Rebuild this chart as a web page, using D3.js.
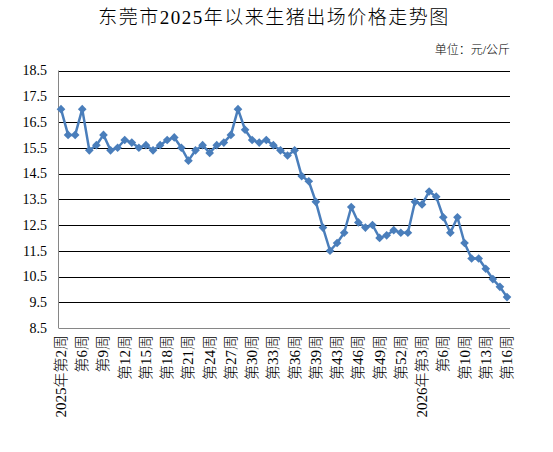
<!DOCTYPE html>
<html>
<head>
<meta charset="utf-8">
<script src="https://cdn.jsdelivr.net/npm/d3@7"></script>
<style>
  body { margin: 0; background: #fff; }
  svg { display: block; }
</style>
</head>
<body>
<div id="chart"></div>
<script>
// weekly price (元/公斤), one point per report
const prices = [
  17.0, 16.0, 16.0, 17.0, 15.4, 15.6, 16.0, 15.4, 15.5, 15.8,
  15.7, 15.5, 15.6, 15.4, 15.6, 15.8, 15.9, 15.5, 15.0, 15.4,
  15.6, 15.3, 15.6, 15.7, 16.0, 17.0, 16.2, 15.8, 15.7, 15.8,
  15.6, 15.4, 15.2, 15.4, 14.4, 14.2, 13.4, 12.4, 11.5, 11.8,
  12.2, 13.2, 12.6, 12.4, 12.5, 12.0, 12.1, 12.3, 12.2, 12.2,
  13.4, 13.3, 13.8, 13.6, 12.8, 12.2, 12.8, 11.8, 11.2, 11.2,
  10.8, 10.4, 10.1, 9.7
];
// one label every third point
const tickLabels = [
  "2025年第2周", "第6周", "第9周", "第12周", "第15周", "第18周", "第21周",
  "第24周", "第27周", "第30周", "第33周", "第36周", "第39周", "第43周",
  "第46周", "第49周", "第52周", "2026年第3周", "第6周", "第10周", "第13周", "第16周"
];
const yTicks = [8.5, 9.5, 10.5, 11.5, 12.5, 13.5, 14.5, 15.5, 16.5, 17.5, 18.5];

const width = 553;
const height = 452;
const margin = { top: 70.5, right: 43, bottom: 124, left: 58.5 };

const serif = "'Liberation Serif', 'Noto Sans CJK SC', serif";

const svg = d3.select("#chart")
  .append("svg")
  .attr("width", width)
  .attr("height", height);

const x = d3.scalePoint()
  .domain(d3.range(prices.length))
  .range([61, 507]);

const y = d3.scaleLinear()
  .domain([8.5, 18.5])
  .range([height - margin.bottom, margin.top]);

// gridlines
svg.append("g")
  .selectAll("line")
  .data(yTicks.slice(1))
  .enter()
  .append("line")
  .attr("x1", margin.left)
  .attr("x2", width - margin.right)
  .attr("y1", (d) => Math.round(y(d)) + 0.5)
  .attr("y2", (d) => Math.round(y(d)) + 0.5)
  .attr("stroke", "#000")
  .attr("stroke-width", 1);

// axes
svg.append("line")
  .attr("x1", margin.left).attr("x2", margin.left)
  .attr("y1", margin.top).attr("y2", height - margin.bottom)
  .attr("stroke", "#868686");
svg.append("line")
  .attr("x1", margin.left).attr("x2", width - margin.right)
  .attr("y1", Math.round(y(8.5)) + 0.5).attr("y2", Math.round(y(8.5)) + 0.5)
  .attr("stroke", "#868686");

// y labels
svg.append("g")
  .selectAll("text")
  .data(yTicks)
  .enter()
  .append("text")
  .attr("x", 47)
  .attr("y", (d) => y(d))
  .attr("dy", "0.35em")
  .attr("text-anchor", "end")
  .style("font-family", serif)
  .style("font-size", "14px")
  .attr("fill", "#000")
  .text((d) => d.toFixed(1));

// x labels, rotated
svg.append("g")
  .selectAll("text")
  .data(tickLabels)
  .enter()
  .append("text")
  .attr("transform", (d, i) => `translate(${x(i * 3) + 5},${height - margin.bottom + 7}) rotate(-90)`)
  .attr("text-anchor", "end")
  .style("font-family", serif)
  .style("font-size", "15px")
  .style("font-weight", 300)
  .attr("fill", "#000")
  .text((d) => d);

// line
const line = d3.line()
  .x((d, i) => x(i))
  .y((d) => y(d));

svg.append("path")
  .datum(prices)
  .attr("d", line)
  .attr("fill", "none")
  .attr("stroke", "#4a7ebb")
  .attr("stroke-width", 2.5)
  .attr("stroke-linejoin", "round");

svg.append("g")
  .selectAll("path")
  .data(prices)
  .enter()
  .append("path")
  .attr("d", d3.symbol(d3.symbolDiamond2, 48))
  .attr("transform", (d, i) => `translate(${x(i)},${y(d)})`)
  .attr("fill", "#4a7ebb");

// title and unit
svg.append("text")
  .attr("x", 274)
  .attr("y", 24)
  .attr("text-anchor", "middle")
  .style("font-family", serif)
  .style("font-size", "19px")
  .style("font-weight", 300)
  .style("letter-spacing", "1.5px")
  .attr("fill", "#000")
  .text("东莞市2025年以来生猪出场价格走势图");

svg.append("text")
  .attr("x", 510)
  .attr("y", 54)
  .attr("text-anchor", "end")
  .style("font-family", serif)
  .style("font-size", "12px")
  .style("font-weight", 300)
  .attr("fill", "#000")
  .text("单位：元/公斤");
</script>
</body>
</html>
